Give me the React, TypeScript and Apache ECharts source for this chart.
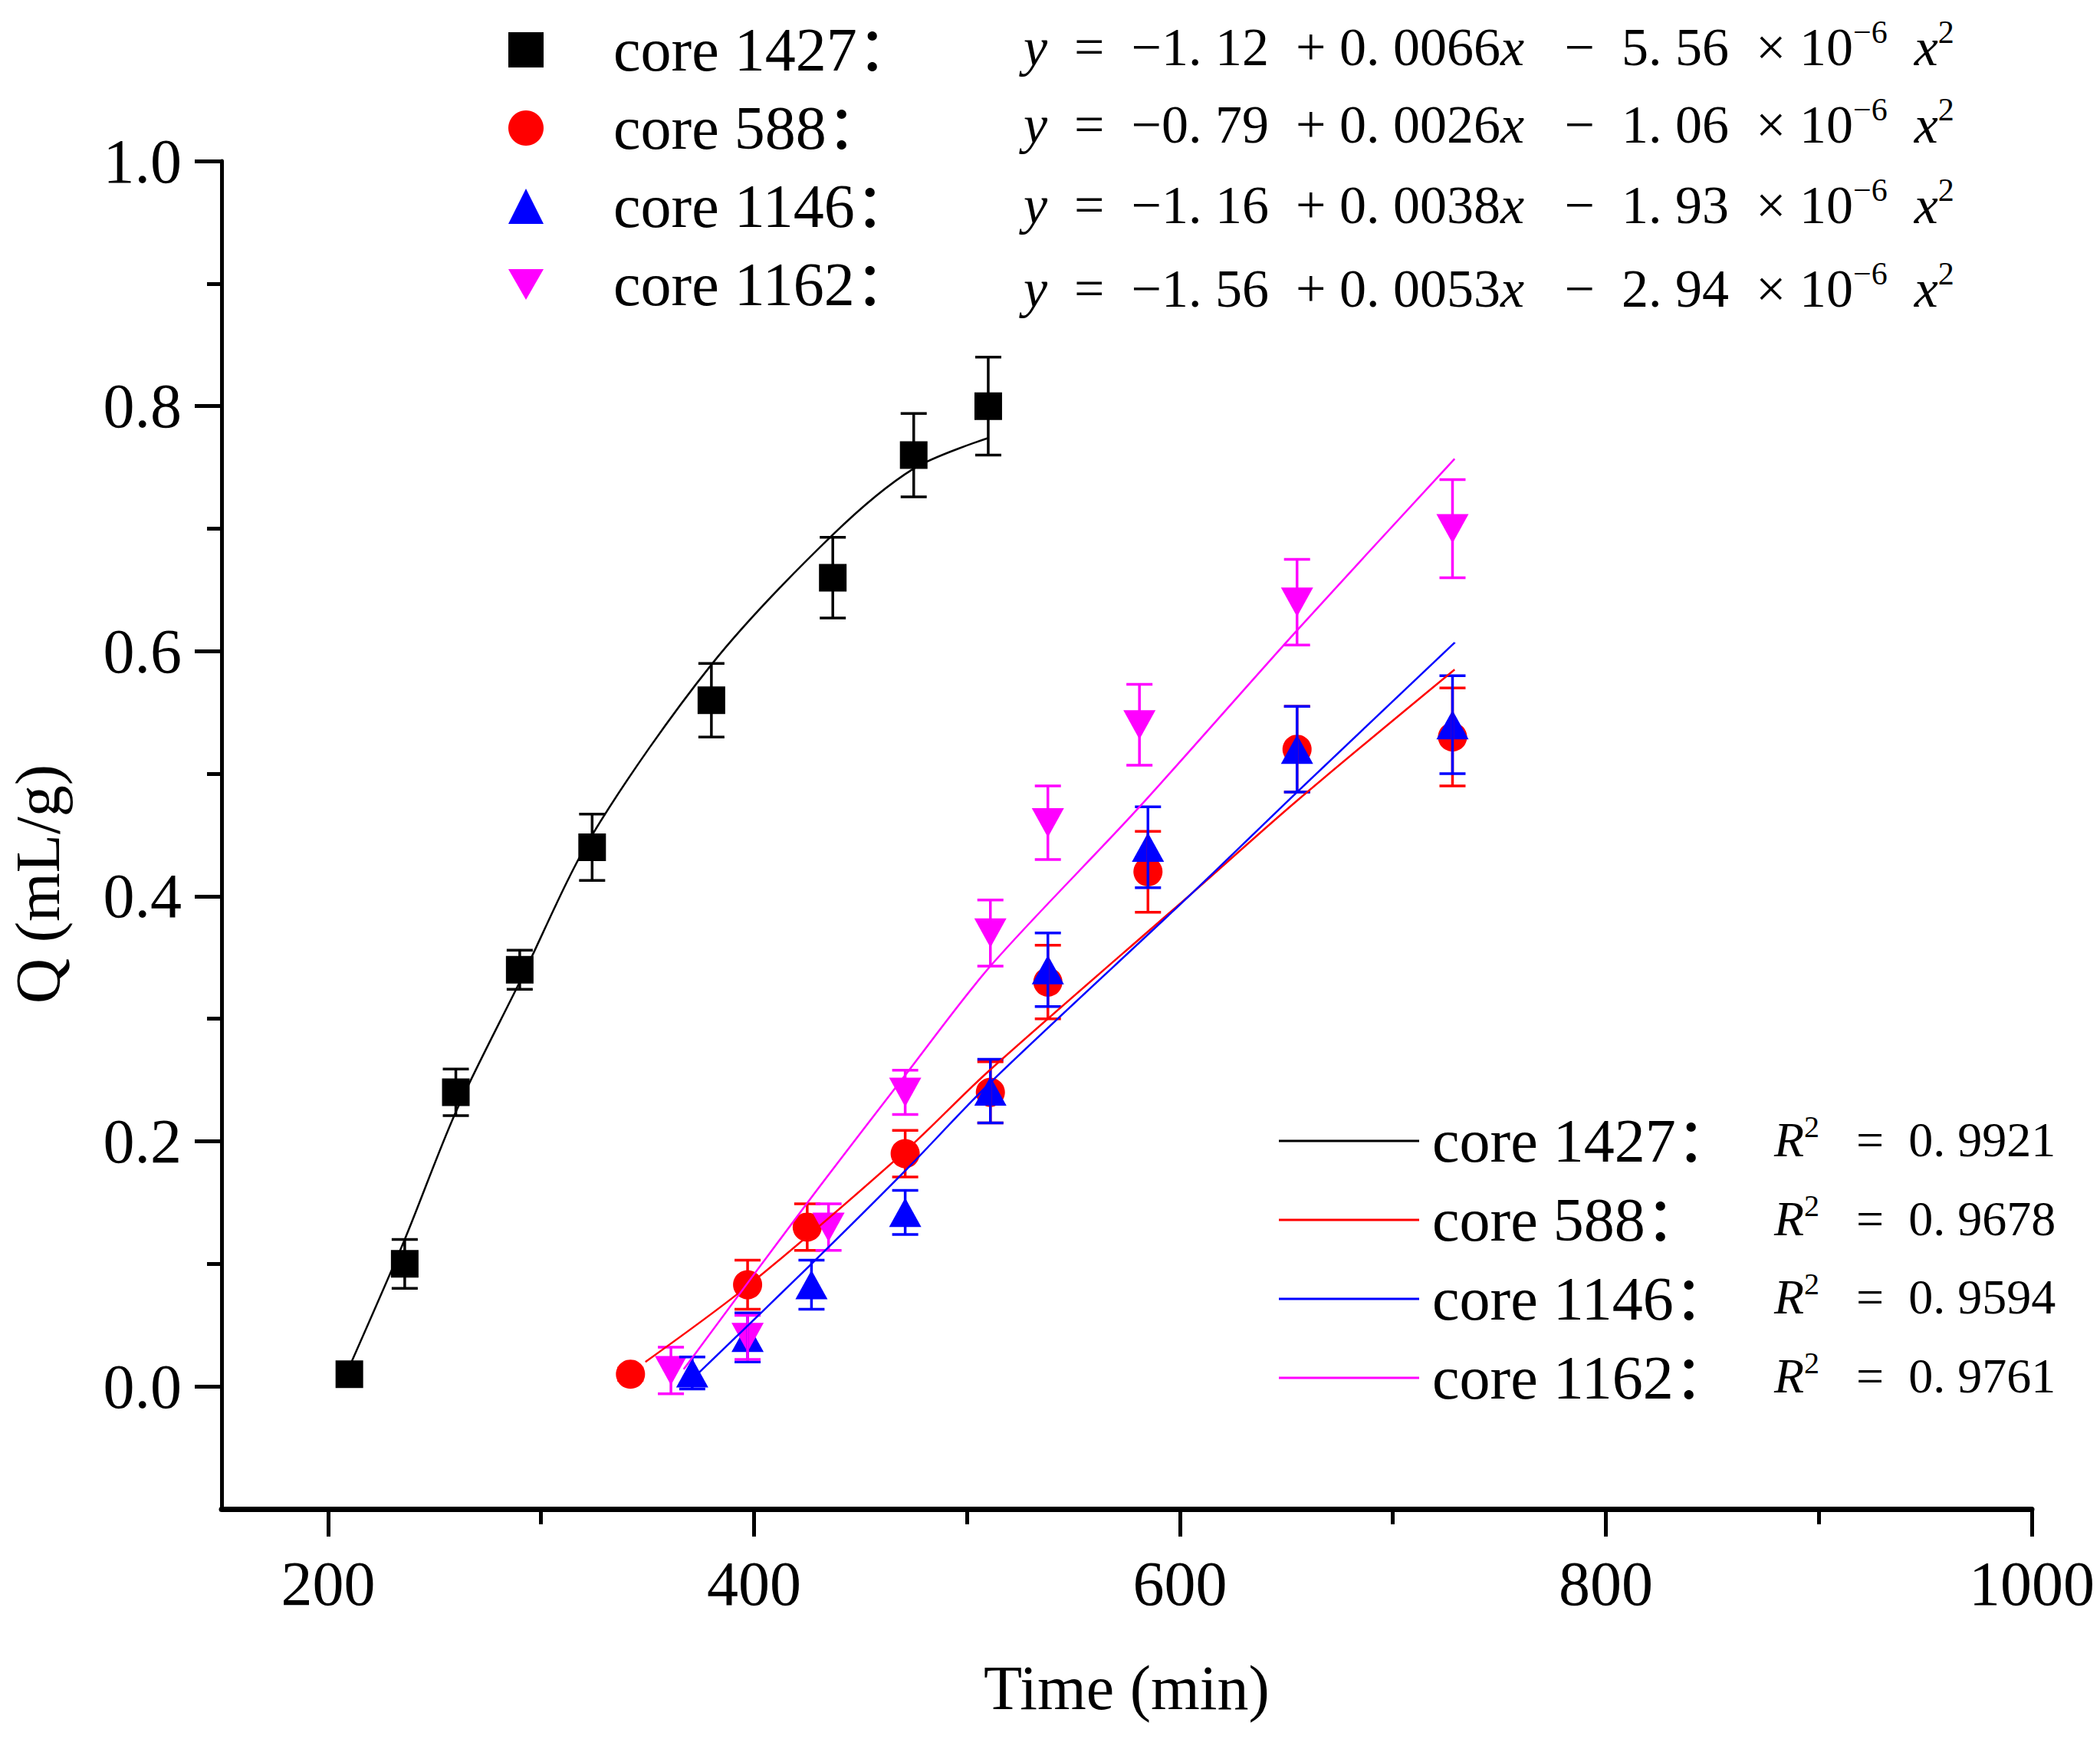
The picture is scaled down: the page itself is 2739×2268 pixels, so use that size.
import React, { useEffect, useRef } from 'react';
import * as echarts from 'echarts';

// ---------- data ----------
const coreNames = ['core 1427', 'core 588', 'core 1146', 'core 1162'];
const coreColors = ['#000000', '#FF0000', '#0000FF', '#FF00FF'];
const coreSymbols = ['rect', 'circle', 'triangle', 'triangle'];
const coreSymbolRotate = [0, 0, 0, 180];
const coreSymbolSizes: any[] = [36, 38, [42, 38], [42, 38]];
const coreLegendIcons = ['rect', 'circle', 'triangle', 'path://M0,0L20,0L10,17.3Z'];

const time1427 = [210, 236, 260, 290, 324, 380, 437, 475, 510];
const q1427 = [0.01, 0.10, 0.24, 0.34, 0.44, 0.56, 0.66, 0.76, 0.80];
const err1427 = [0.005, 0.02, 0.019, 0.016, 0.027, 0.03, 0.033, 0.034, 0.04];

const time588 = [342, 397, 425, 471, 511, 538, 585, 655, 728];
const q588 = [0.01, 0.083, 0.13, 0.19, 0.24, 0.33, 0.42, 0.52, 0.53];
const err588 = [0.005, 0.02, 0.019, 0.019, 0.025, 0.03, 0.033, 0.035, 0.04];

const time1146 = [371, 397, 427, 471, 511, 538, 585, 655, 728];
const q1146 = [0.011, 0.04, 0.083, 0.142, 0.241, 0.34, 0.44, 0.52, 0.54];
const err1146 = [0.013, 0.02, 0.02, 0.018, 0.026, 0.03, 0.033, 0.035, 0.04];

const time1162 = [361, 397, 435, 471, 511, 538, 581, 655, 728];
const q1162 = [0.013, 0.04, 0.13, 0.24, 0.37, 0.46, 0.54, 0.64, 0.70];
const err1162 = [0.019, 0.018, 0.019, 0.018, 0.027, 0.03, 0.033, 0.035, 0.04];

// fitted curves
const fitX1427 = [210, 236, 260, 290, 324, 380, 437, 475, 510];
const fitY1427 = [0.016, 0.12, 0.224, 0.33, 0.45, 0.589, 0.695, 0.749, 0.774];
const fitX588 = [349, 397, 471, 510, 606, 655, 729];
const fitY588 = [0.02, 0.082, 0.192, 0.257, 0.403, 0.478, 0.585];
const fitX1146 = [374, 427, 471, 511, 606, 655, 729];
const fitY1146 = [0.011, 0.10, 0.176, 0.248, 0.403, 0.485, 0.607];
const fitX1162 = [367, 426, 471, 511, 580, 655, 729];
const fitY1162 = [0.014, 0.152, 0.254, 0.343, 0.471, 0.617, 0.757];

const eqA = ['−1. 12', '−0. 79', '−1. 16', '−1. 56'];
const eqB = ['0. 0066', '0. 0026', '0. 0038', '0. 0053'];
const eqC = ['5. 56', '1. 06', '1. 93', '2. 94'];
const r2Values = ['0. 9921', '0. 9678', '0. 9594', '0. 9761'];

const xMajorTicks = [200, 400, 600, 800, 1000];
const xMinorTicks = [300, 500, 700, 900];
const yMajorTicks = [0, 0.2, 0.4, 0.6, 0.8, 1.0];
const yMinorTicks = [0.1, 0.3, 0.5, 0.7, 0.9];

const xName = 'Time (min)';
const yName = 'Q (mL/g)';

const times = [time1427, time588, time1146, time1162];
const qs = [q1427, q588, q1146, q1162];
const errs = [err1427, err588, err1146, err1162];
const fitXs = [fitX1427, fitX588, fitX1146, fitX1162];
const fitYs = [fitY1427, fitY588, fitY1146, fitY1162];

const serif = "'Liberation Serif', 'Times New Roman', serif";
const serifCJK = "'Liberation Serif', 'Noto Sans CJK SC', serif";

function buildOption(): any {
  const series: any[] = [];
  coreNames.forEach((name, i) => {
    series.push({
      type: 'scatter',
      name,
      xAxisIndex: 0,
      yAxisIndex: 0,
      data: times[i].map((t, k) => [t, qs[i][k]]),
      symbol: coreSymbols[i],
      symbolSize: coreSymbolSizes[i],
      symbolRotate: coreSymbolRotate[i],
      itemStyle: { color: coreColors[i], opacity: 1 },
      z: 2,
    });
  });
  coreNames.forEach((name, i) => {
    const color = coreColors[i];
    series.push({
      type: 'custom',
      name: name + ' error',
      xAxisIndex: 0,
      yAxisIndex: 0,
      silent: true,
      z: 3,
      encode: { x: 0, y: 1 },
      data: times[i].map((t, k) => [t, qs[i][k], errs[i][k]]),
      renderItem: (params: any, api: any) => {
        const x = api.value(0);
        const y = api.value(1);
        const e = api.value(2);
        const top = api.coord([x, y + e]);
        const bot = api.coord([x, y - e]);
        const half = 17;
        const st = { stroke: color, lineWidth: 3.5 };
        return {
          type: 'group',
          children: [
            { type: 'line', shape: { x1: top[0], y1: top[1], x2: bot[0], y2: bot[1] }, style: st },
            { type: 'line', shape: { x1: top[0] - half, y1: top[1], x2: top[0] + half, y2: top[1] }, style: st },
            { type: 'line', shape: { x1: bot[0] - half, y1: bot[1], x2: bot[0] + half, y2: bot[1] }, style: st },
          ],
        };
      },
    });
  });
  coreNames.forEach((name, i) => {
    series.push({
      type: 'line',
      name: name + ' fit',
      xAxisIndex: 0,
      yAxisIndex: 0,
      data: fitXs[i].map((t, k) => [t, fitYs[i][k]]),
      smooth: 0.3,
      symbol: 'none',
      showSymbol: false,
      lineStyle: { color: coreColors[i], width: 2.5 },
      itemStyle: { color: coreColors[i] },
      z: 4,
    });
  });

  const eqRich = {
    i: { fontStyle: 'italic', fontFamily: serif, fontSize: 70, lineHeight: 80, color: '#000' },
    s: { fontFamily: serif, fontSize: 42, lineHeight: 42, verticalAlign: 'top', color: '#000' },
  };
  const r2Rich = {
    i: { fontStyle: 'italic', fontFamily: serif, fontSize: 64, lineHeight: 74, color: '#000' },
    s: { fontFamily: serif, fontSize: 40, lineHeight: 40, verticalAlign: 'top', color: '#000' },
  };

  const eqRowsY = [61, 162, 267, 376];
  const r2RowsY = [1486, 1589, 1691, 1794];
  const graphic: any[] = [];
  coreNames.forEach((_, i) => {
    graphic.push({
      type: 'text',
      x: 1335,
      y: eqRowsY[i],
      silent: true,
      style: {
        text: `{i|y}  =  ${eqA[i]}  + ${eqB[i]}{i|x}   −  ${eqC[i]}  × 10{s|−6}  {i|x}{s|2}`,
        fontFamily: serif,
        fontSize: 70,
        lineHeight: 80,
        fill: '#000',
        align: 'left',
        verticalAlign: 'middle',
        rich: eqRich,
      },
    });
    graphic.push({
      type: 'text',
      x: 2314,
      y: r2RowsY[i],
      silent: true,
      style: {
        text: `{i|R}{s|2}   =  ${r2Values[i]}`,
        fontFamily: serif,
        fontSize: 64,
        lineHeight: 74,
        fill: '#000',
        align: 'left',
        verticalAlign: 'middle',
        rich: r2Rich,
      },
    });
  });

  const labelStyle = { fontFamily: serif, fontSize: 82, color: '#000', lineHeight: 90 };

  return {
    animation: false,
    backgroundColor: '#ffffff',
    grid: { left: 289, right: 89, top: 210, bottom: 300, containLabel: false, outerBoundsMode: 'none' },
    xAxis: [
      {
        type: 'value',
        min: 150,
        max: 1000,
        position: 'bottom',
        name: xName,
        nameLocation: 'middle',
        nameGap: 188,
        nameTextStyle: { ...labelStyle },
        axisLine: { show: true, onZero: false, lineStyle: { color: '#000', width: 7 } },
        axisTick: { show: true, customValues: xMajorTicks, length: 36, lineStyle: { color: '#000', width: 5 } },
        axisLabel: { show: true, customValues: xMajorTicks, margin: 52, formatter: (v: number) => String(v), ...labelStyle },
        splitLine: { show: false },
      },
      {
        type: 'value',
        min: 150,
        max: 1000,
        position: 'bottom',
        axisLine: { show: false, onZero: false },
        axisTick: { show: true, customValues: xMinorTicks, length: 20, lineStyle: { color: '#000', width: 5 } },
        axisLabel: { show: false },
        splitLine: { show: false },
      },
    ],
    yAxis: [
      {
        type: 'value',
        min: -0.1,
        max: 1.0,
        position: 'left',
        name: yName,
        nameLocation: 'middle',
        nameRotate: 90,
        nameGap: 205,
        nameTextStyle: { ...labelStyle, lineHeight: 70, padding: [0, 128, 0, 0] },
        axisLine: { show: true, onZero: false, lineStyle: { color: '#000', width: 5 } },
        axisTick: { show: true, customValues: yMajorTicks, length: 35, lineStyle: { color: '#000', width: 5 } },
        axisLabel: {
          show: true,
          customValues: yMajorTicks,
          margin: 52,
          formatter: (v: number) => v.toFixed(1),
          ...labelStyle,
        },
        splitLine: { show: false },
      },
      {
        type: 'value',
        min: -0.1,
        max: 1.0,
        position: 'left',
        axisLine: { show: false, onZero: false },
        axisTick: { show: true, customValues: yMinorTicks, length: 19, lineStyle: { color: '#000', width: 5 } },
        axisLabel: { show: false },
        splitLine: { show: false },
      },
    ],
    legend: [
      {
        data: coreNames.map((n, i) => ({ name: n, icon: coreLegendIcons[i] })),
        orient: 'vertical',
        left: 658,
        top: 15,
        itemWidth: 46,
        itemHeight: 46,
        itemGap: 12,
        selectedMode: false,
        formatter: (n: string) => n + '：',
        textStyle: { fontFamily: serifCJK, fontSize: 80, color: '#000', lineHeight: 90, padding: [0, 0, 0, 86] },
      },
      {
        data: coreNames.map((n) => ({ name: n + ' fit', icon: 'rect' })),
        orient: 'vertical',
        left: 1663,
        top: 1438,
        itemWidth: 183,
        itemHeight: 3,
        itemGap: 13,
        selectedMode: false,
        formatter: (n: string) => n.replace(' fit', '') + '：',
        textStyle: { fontFamily: serifCJK, fontSize: 80, color: '#000', lineHeight: 90, padding: [0, 0, 0, 12] },
      },
    ],
    graphic,
    series,
  };
}

export default function App() {
  const ref = useRef<HTMLDivElement>(null);
  useEffect(() => {
    if (!ref.current) return;
    const chart = echarts.init(ref.current, undefined, { renderer: 'svg' });
    chart.setOption(buildOption());
    return () => chart.dispose();
  }, []);
  return (
    <div
      ref={ref}
      style={{ position: 'absolute', left: 0, top: 0, width: 2739, height: 2268, background: '#fff' }}
    />
  );
}
